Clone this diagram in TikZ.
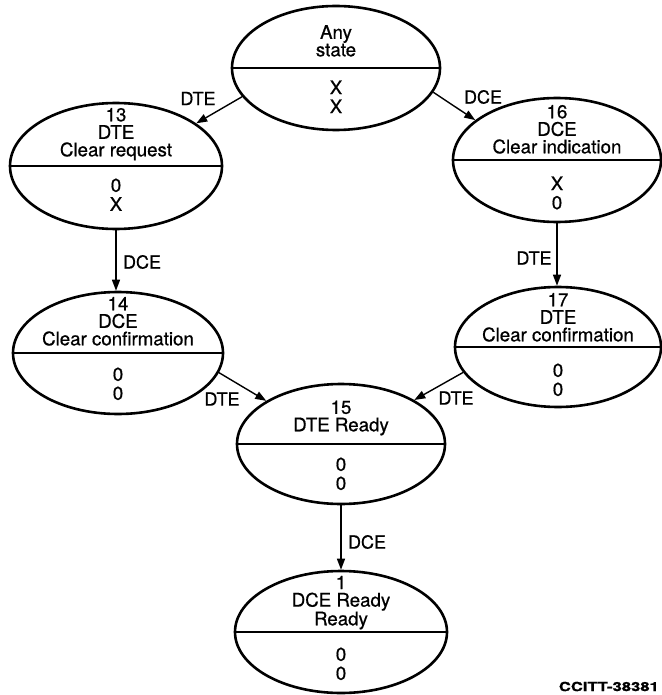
\documentclass[tikz,border=0pt]{standalone}
\usepackage{fontspec}
\usepackage{graphicx}
\setmainfont{TeX Gyre Heros}[FakeBold=0.7]
\usetikzlibrary{shapes.geometric,arrows.meta}
\tikzset{
  st/.style={draw,ellipse,line width=2.6pt,inner sep=0pt},
  divider/.style={line width=2.6pt},
  uptext/.style={inner sep=0pt,align=center,font=\fontsize{18.7}{17.5}\selectfont},
  lotext/.style={inner sep=0pt,align=center,font=\fontsize{18.7}{19}\selectfont},
  conn/.style={line width=1.4pt,-{Triangle[length=11pt,width=8pt]}},
  lbl/.style={inner sep=0pt,font=\fontsize{18}{18}\selectfont}
}
% name, x, y, width, height, upper text, lower text, upper last-line offset, lower first-line offset
\newcommand\stnode[9]{%
  \node[st,minimum width=#4pt,minimum height=#5pt] (#1) at (#2,#3) {};
  \draw[divider] (#1.west) -- (#1.east);
  \node[uptext,anchor=south] (#1u) at ([yshift=#8pt-11.75pt]#1.center) {#6\strut};
  \node[lotext,anchor=north] (#1l) at ([yshift=-#9pt+6.65pt]#1.center) {#7};
}
\begin{document}
\begin{tikzpicture}[x=1pt,y=-1pt]
\useasboundingbox (0,0) rectangle (661,695);
\stnode{any}{336}{68}{208}{124}{Any\\state}{X\\X}{18}{19}
\stnode{s13}{116}{166}{212}{126}{13\\DTE\\Clear request}{0\\X}{16}{19}
\stnode{s16}{557}{160}{208}{124}{16\\DCE\\Clear indication}{X\\0}{13}{23}
\stnode{s14}{118}{353}{210}{122}{14\\DCE\\Clear confirmation}{0\\0}{14}{21}
\stnode{s17}{558}{347}{206}{120}{17\\DTE\\Clear confirmation}{0\\0}{12}{23}
\stnode{s15}{341}{444}{208}{120}{15\\DTE Ready}{0\\0}{19}{20}
\stnode{s1}{341}{632}{212}{122}{1\\DCE Ready\\Ready}{0\\0}{13}{22}

\draw[conn] (any.197) -- (s13.28);
\draw[conn] (any.346) -- (s16.154);
\draw[conn] (s13.south) -- (s13.south |- s14.north);
\draw[conn] (s16.south) -- (s16.south |- s17.north);
\draw[conn] (s14.349) -- (s15.150);
\draw[conn] (s17.195) -- (s15.31);
\draw[conn] (s15.south) -- (s15.south |- s1.north);

\node[lbl] (l1) at (198,98.5) {DTE};
\node[lbl] (l2) at (483,97) {DCE};
\node[lbl] (l3) at (142,262) {DCE};
\node[lbl] (l4) at (534,258) {DTE};
\node[lbl] (l5) at (222,399) {DTE};
\node[lbl] (l6) at (456,398) {DTE};
\node[lbl] (l7) at (367,542) {DCE};
\node[inner sep=0pt,anchor=east,font=\fontsize{12.6}{13}\selectfont\bfseries] (ref) at (659,686.5) {\scalebox{1.32}[1]{CCITT-38381}};
\end{tikzpicture}
\end{document}
